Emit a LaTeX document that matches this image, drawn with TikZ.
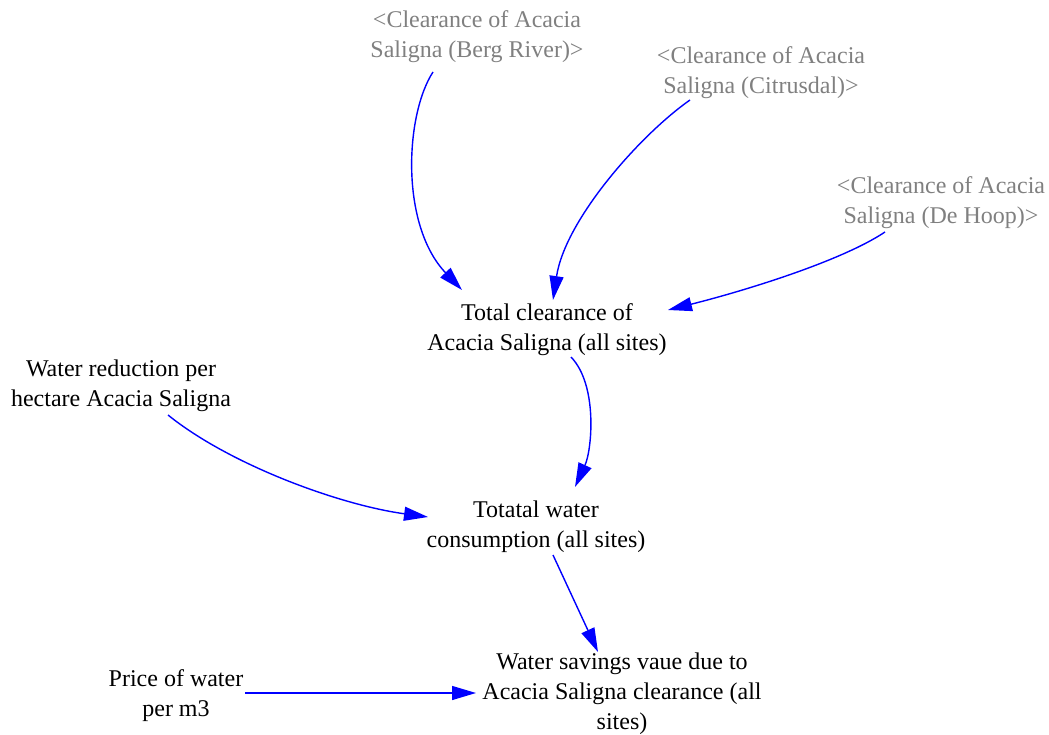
\documentclass[tikz,border=0pt]{standalone}
\usepackage{fontspec}
\newfontfamily\serifface[Extension=.ttf,UprightFont=LiberationSerif-Regular]{LiberationSerif}
\usetikzlibrary{arrows.meta}
\definecolor{shadowgrey}{RGB}{128,128,128}
\begin{document}
\begin{tikzpicture}[x=1pt,y=-1pt,
  var/.style={align=center,inner sep=0pt,font=\serifface\fontsize{24}{30}\selectfont},
  shadow/.style={var,text=shadowgrey},
  link/.style={draw=blue,line width=1.4pt,-{Triangle[length=24pt,width=14pt]}}]
\useasboundingbox (0,0) rectangle (1049,735);

% variables
\node[shadow] (berg)   at (477,37)  {<Clearance of Acacia\\Saligna (Berg River)>};
\node[shadow] (citrus) at (761,73)  {<Clearance of Acacia\\Saligna (Citrusdal)>};
\node[shadow] (dehoop) at (941,203) {<Clearance of Acacia\\Saligna (De Hoop)>};
\node[var] (total)   at (547,330) {Total clearance of\\Acacia Saligna (all sites)};
\node[var] (wred)    at (121,386) {Water reduction per\\hectare Acacia Saligna};
\node[var] (cons)    at (536,527) {Totatal water\\consumption (all sites)};
\node[var] (savings) at (622,694) {Water savings vaue due to\\Acacia Saligna clearance (all\\sites)};
\node[var] (price)   at (176,696) {Price of water\\per m3};

% causal links
\draw[link] ([shift={(-44,35)}]berg.center) .. controls (405,115) and (400,225) .. ([shift={(-85,-40)}]total.center);
\draw[link] ([shift={(-71,27)}]citrus.center) .. controls (640,135) and (565,220) .. ([shift={(6,-30)}]total.center);
\draw[link] ([shift={(-56,29)}]dehoop.center) .. controls (840,262) and (740,292) .. ([shift={(121,-20)}]total.center);
\draw[link] ([shift={(24,27)}]total.center) .. controls (598,385) and (592,450) .. ([shift={(39,-40)}]cons.center);
\draw[link] ([shift={(47,29)}]wred.center) .. controls (230,465) and (340,505) .. ([shift={(-108,-10)}]cons.center);
\draw[link] ([shift={(17,28)}]cons.center) -- ([shift={(-24,-42)}]savings.center);
\draw[link] ([shift={(69,-3)}]price.center) -- ([shift={(-146,-1)}]savings.center);
\end{tikzpicture}
\end{document}
